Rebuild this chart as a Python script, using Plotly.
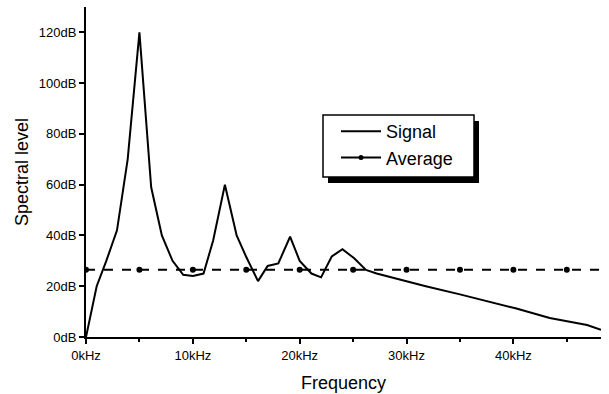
import plotly.graph_objects as go

# Signal spectrum (kHz, dB)
signal_freq = [0, 1.0, 1.9, 2.9, 3.9, 5.0, 6.1, 7.1, 8.1, 9.1, 10.0, 11.0, 11.9, 13.0, 14.1, 15.0,
               16.1, 17.0, 18.0, 19.1, 20.0, 21.1, 22.0, 23.0, 24.0, 25.1, 26.2, 27.2, 31.8, 35.0,
               40.2, 43.4, 46.9, 48.2]
signal_level = [0, 20, 30, 42, 70, 120, 59, 40, 30, 24.5, 24, 25, 38, 60, 40, 31.5,
                22, 28, 29, 39.5, 30, 25, 23.5, 31.7, 34.6, 31, 26.4, 25, 20.0, 16.8,
                11.3, 7.5, 4.7, 2.8]

# Average level (dashed line runs to the right edge; dots every 5 kHz)
avg_line_freq = [0, 48.2]
avg_line_level = [26.5, 26.5]
avg_dot_freq = [0, 5, 10, 15, 20, 25, 30, 35, 40, 45]
avg_dot_level = [26.5] * 10

x_ticks = [0, 10, 20, 30, 40]
x_labels = ["0kHz", "10kHz", "20kHz", "30kHz", "40kHz"]
x_minor = [5, 15, 25, 35, 45]
y_ticks = [0, 20, 40, 60, 80, 100, 120]
y_labels = ["0dB", "20dB", "40dB", "60dB", "80dB", "100dB", "120dB"]

L, R, T, B = 86, 8, 7, 57
W, H = 609, 394
pw, ph = W - L - R, H - T - B

def px(x):
    return (x - L) / pw

def py(y):
    return (H - B - y) / ph

FONT = "Liberation Sans, Arial, sans-serif"

fig = go.Figure()
fig.add_trace(go.Scatter(x=signal_freq, y=signal_level, mode="lines", name="Signal",
                         line=dict(color="black", width=2)))
fig.add_trace(go.Scatter(x=avg_line_freq, y=avg_line_level, mode="lines", name="Average",
                         showlegend=False,
                         line=dict(color="black", width=2, dash="dash")))
fig.add_trace(go.Scatter(x=avg_dot_freq, y=avg_dot_level, mode="markers", name="Average",
                         showlegend=False,
                         marker=dict(color="#000000", size=6, symbol="circle", opacity=1,
                                     line=dict(color="#000000", width=0))))
# legend entry for the average (solid sample as in the reference legend)
fig.add_trace(go.Scatter(x=[None], y=[None], mode="lines+markers", name="Average",
                         line=dict(color="black", width=2),
                         marker=dict(color="black", size=5)))

# legend box with drop shadow
fig.add_shape(type="rect", xref="paper", yref="paper",
              x0=px(328), x1=px(479), y0=py(183), y1=py(121),
              fillcolor="black", line=dict(width=0), layer="above")
fig.add_shape(type="rect", xref="paper", yref="paper",
              x0=px(323), x1=px(474), y0=py(177), y1=py(115),
              fillcolor="white", line=dict(color="black", width=1.5), layer="above")

fig.update_layout(
    width=W, height=H,
    margin=dict(l=L, r=R, t=T, b=B, autoexpand=False),
    paper_bgcolor="white", plot_bgcolor="white",
    font=dict(family=FONT, color="black", size=13),
    showlegend=True,
    legend=dict(x=px(336), y=py(113), xanchor="left", yanchor="top",
                bgcolor="rgba(0,0,0,0)", borderwidth=0,
                font=dict(size=18), itemwidth=40, tracegroupgap=0),
    xaxis=dict(range=[0, 48.2], tickvals=x_ticks, ticktext=x_labels, automargin=False,
               showgrid=False, zeroline=False, showline=True, linecolor="black", linewidth=2,
               ticks="outside", ticklen=5, tickwidth=1.5, tickcolor="black",
               minor=dict(tickvals=x_minor, ticks="outside", ticklen=3, tickcolor="black", tickwidth=1.5),
               title=dict(text="Frequency", font=dict(size=18), standoff=15),
               tickfont=dict(size=13)),
    yaxis=dict(range=[0, 130], tickvals=y_ticks, ticktext=y_labels, automargin=False,
               showgrid=False, zeroline=False, showline=True, linecolor="black", linewidth=2,
               ticks="outside", ticklen=5, tickwidth=1.5, tickcolor="black",
               title=dict(text="Spectral level", font=dict(size=18), standoff=6),
               tickfont=dict(size=13)),
)

fig.write_html("out.html", config={"displayModeBar": False},
               post_script="document.body.style.margin='0px';document.body.style.padding='0px';")
